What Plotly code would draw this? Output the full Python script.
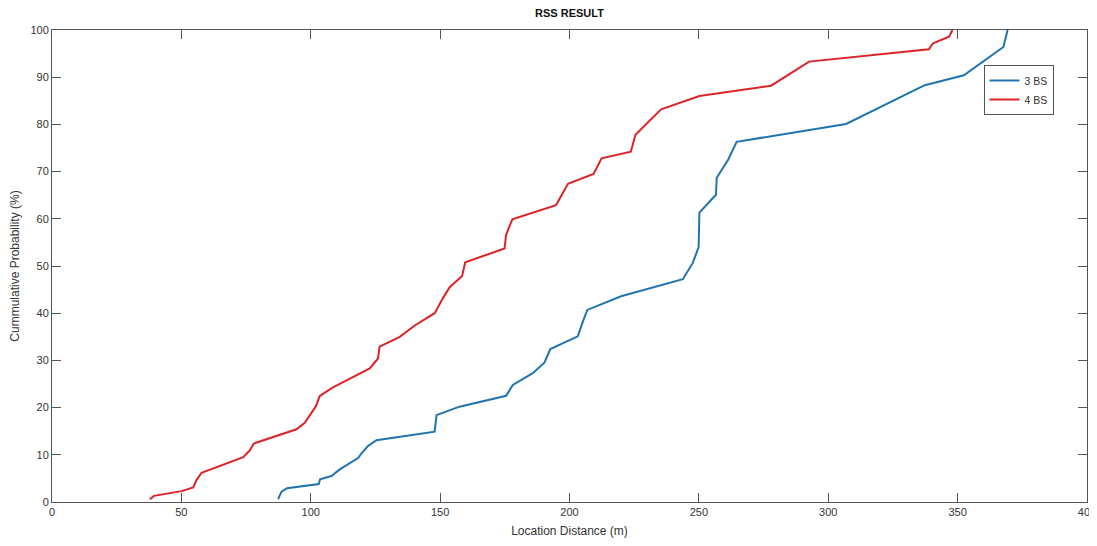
import plotly.graph_objects as go

# 4 BS (red) CDF points
bs4_x = [37.8, 39.4, 50.1, 54.6, 55.9, 57.4, 57.8, 73.9, 76.4, 78.0, 94.5, 97.7,
         102.0, 103.5, 108.6, 122.8, 126.0, 126.6, 134.4, 140.2, 147.9, 151.1,
         153.7, 158.5, 159.7, 174.9, 175.5, 177.9, 194.8, 199.4, 209.3, 212.4,
         223.7, 225.5, 235.4, 250.2, 277.9, 292.6, 338.9, 340.5, 346.7, 348.0]
bs4_y = [0.6, 1.3, 2.3, 3.1, 4.7, 5.7, 6.2, 9.5, 10.9, 12.4, 15.4, 16.8,
         20.3, 22.5, 24.3, 28.3, 30.4, 32.9, 35.0, 37.4, 40.0, 43.2,
         45.5, 47.9, 50.8, 53.7, 56.6, 59.9, 62.9, 67.4, 69.5, 72.8,
         74.2, 77.8, 83.2, 86.0, 88.2, 93.3, 95.9, 97.2, 98.6, 100.0]

# 3 BS (blue) CDF points
bs3_x = [87.4, 88.7, 90.8, 103.1, 103.6, 108.0, 111.2, 118.3, 119.6, 122.2,
         125.4, 147.9, 148.6, 157.5, 175.5, 178.1, 185.8, 190.3, 192.6, 203.2,
         205.4, 206.9, 219.9, 243.8, 247.6, 249.9, 250.2, 256.6, 256.9, 261.3,
         264.6, 306.9, 337.3, 352.4, 367.7, 369.3]
bs3_y = [0.6, 2.2, 2.9, 3.8, 4.8, 5.5, 6.9, 9.3, 10.3, 11.9,
         13.1, 14.9, 18.4, 20.2, 22.5, 24.8, 27.3, 29.5, 32.4, 35.1,
         38.6, 40.7, 43.6, 47.2, 50.6, 54.0, 61.3, 65.1, 68.7, 72.5,
         76.3, 80.1, 88.3, 90.4, 96.4, 100.0]

x_ticks = [0, 50, 100, 150, 200, 250, 300, 350, 400]
y_ticks = [0, 10, 20, 30, 40, 50, 60, 70, 80, 90, 100]

fig = go.Figure()
fig.add_trace(go.Scatter(x=bs3_x, y=bs3_y, mode="lines", name="3 BS",
                         line=dict(color="#1f74b0", width=2)))
fig.add_trace(go.Scatter(x=bs4_x, y=bs4_y, mode="lines", name="4 BS",
                         line=dict(color="#dc2428", width=2)))

FONT = "Liberation Sans, Arial"
axis_common = dict(
    showgrid=False, zeroline=False, showline=True, linecolor="#555555",
    linewidth=1, mirror="ticks", ticks="inside", ticklen=9, tickwidth=1.2,
    tickcolor="#555555", automargin=False, ticklabeloverflow="allow",
    tickfont=dict(family=FONT, size=11, color="#333333"),
)

# page body has an 8px margin, so the figure is sized to fit exactly inside it
fig.update_layout(
    width=1089, height=530,
    paper_bgcolor="white", plot_bgcolor="white",
    margin=dict(l=44, r=10, t=22, b=36, autoexpand=False),
    title=dict(text="<b>RSS RESULT</b>", x=(44 + 1035 / 2) / 1089, xanchor="center",
               yref="container", y=1 - 5 / 530, yanchor="middle",
               font=dict(family=FONT, size=11, color="#111111")),
    xaxis=dict(range=[0, 400], tickvals=x_ticks,
               title=dict(text="Location Distance (m)", standoff=14,
                          font=dict(family=FONT, size=12, color="#333333")),
               **axis_common),
    yaxis=dict(range=[0, 100], tickvals=y_ticks,
               title=dict(text="Cummulative Probability (%)", standoff=8,
                          font=dict(family=FONT, size=12, color="#333333")),
               **axis_common),
    legend=dict(x=0.9, y=0.926, xanchor="left", yanchor="top",
                bgcolor="white", bordercolor="#555555", borderwidth=1,
                font=dict(family=FONT, size=10.5, color="#333333"),
                tracegroupgap=0, itemwidth=30),
    showlegend=True,
)

fig.write_html("out.html")
